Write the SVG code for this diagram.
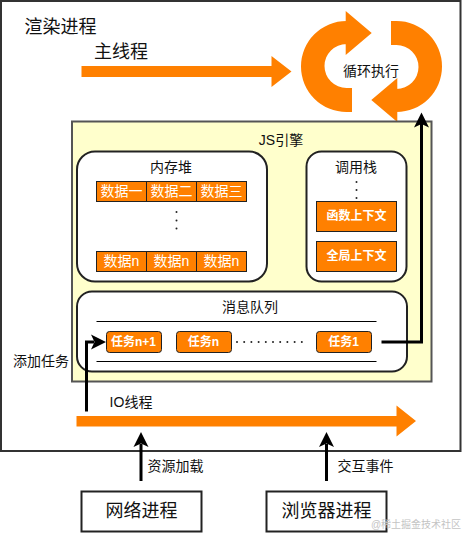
<svg xmlns="http://www.w3.org/2000/svg" width="462" height="533" viewBox="0 0 462 533">
<style>
text{font-family:"Liberation Sans","Noto Sans CJK SC",sans-serif;text-anchor:middle;dominant-baseline:central;fill:#111}
.t14{font-size:14px}
.cell{fill:#ff8000;stroke:#222;stroke-width:1}
.cellt{font-size:14px;fill:#fff}
.bt{font-size:12px;font-weight:bold;fill:#fff}
.panel{fill:#fff;stroke:#222;stroke-width:2}
.or{fill:#ff8000}
.blk{fill:none;stroke:#000;stroke-width:3}
.ah{fill:#000}
.dot{fill:#222}
</style>
<defs>
<path id="loop" d="M352 112H346.500A45.500 45.500 0 0 1 346.500 21H345.700V11L371.700 33L345.700 55V44H346.500A22 22 0 0 0 346.500 88H352Z"/>
</defs>
<g id="render-process">
<rect x="1" y="1" width="459.500" height="450" fill="#fff" stroke="#333" stroke-width="2"/>
<text x="60.500" y="26.500" font-size="18">渲染进程</text>
</g>
<g id="main-thread">
<path class="or" d="M81.500 66H271.500V56L291.500 71.500L271.500 87V77H81.500Z"/>
<text x="121" y="52" font-size="18">主线程</text>
</g>
<g id="loop-exec">
<use href="#loop" class="or"/>
<use href="#loop" class="or" transform="rotate(180 371.500 66.500)"/>
<text x="371" y="71" class="t14">循环执行</text>
</g>
<g id="js-engine">
<rect x="72" y="121.500" width="359.500" height="260" fill="#ffc" stroke="#555" stroke-width="2"/>
<text x="281" y="140" class="t14">JS引擎</text>
</g>
<g id="heap">
<rect class="panel" x="77" y="151.500" width="190" height="130" rx="18"/>
<text x="171" y="166.500" class="t14">内存堆</text>
<rect class="cell" x="96.500" y="181.500" width="50" height="20"/><rect class="cell" x="146.500" y="181.500" width="50" height="20"/><rect class="cell" x="196.500" y="181.500" width="50" height="20"/>
<text class="cellt" x="121.500" y="191">数据一</text><text class="cellt" x="171.500" y="191">数据二</text><text class="cellt" x="221.500" y="191">数据三</text>
<circle class="dot" cx="176.500" cy="212" r="1"/><circle class="dot" cx="176.500" cy="220.500" r="1"/><circle class="dot" cx="176.500" cy="228.500" r="1"/>
<rect class="cell" x="96.500" y="251.500" width="50" height="20"/><rect class="cell" x="146.500" y="251.500" width="50" height="20"/><rect class="cell" x="196.500" y="251.500" width="50" height="20"/>
<text class="cellt" x="121.500" y="261">数据n</text><text class="cellt" x="171.500" y="261">数据n</text><text class="cellt" x="221.500" y="261">数据n</text>
</g>
<g id="stack">
<rect class="panel" x="306.500" y="151.500" width="100" height="130" rx="15"/>
<text x="356" y="166.500" class="t14">调用栈</text>
<circle class="dot" cx="356.500" cy="182" r="1"/><circle class="dot" cx="356.500" cy="190" r="1"/><circle class="dot" cx="356.500" cy="198" r="1"/>
<rect class="cell" x="316.500" y="201.500" width="80" height="30"/>
<text class="bt" x="356.500" y="216">函数上下文</text>
<rect class="cell" x="316.500" y="241.500" width="80" height="30"/>
<text class="bt" x="356.500" y="256">全局上下文</text>
</g>
<g id="queue">
<rect class="panel" x="77" y="291.500" width="330" height="80" rx="15"/>
<text x="250" y="306.500" class="t14">消息队列</text>
<path d="M96.500 321.500H376.500M96.500 361.500H376.500" stroke="#000" stroke-width="1" fill="none"/>
<rect class="cell" x="106.500" y="331.500" width="55" height="21" rx="3"/>
<text class="bt" x="133.500" y="342">任务n+1</text>
<rect class="cell" x="176.500" y="331.500" width="55" height="21" rx="3"/>
<text class="bt" x="203.500" y="342">任务n</text>
<rect class="cell" x="316.500" y="331.500" width="55" height="21" rx="3"/>
<text class="bt" x="343.500" y="342">任务1</text>
<g class="dot"><circle cx="237" cy="342" r="1"/><circle cx="244.200" cy="342" r="1"/><circle cx="251.400" cy="342" r="1"/><circle cx="258.600" cy="342" r="1"/><circle cx="265.800" cy="342" r="1"/><circle cx="273" cy="342" r="1"/><circle cx="280.200" cy="342" r="1"/><circle cx="287.400" cy="342" r="1"/><circle cx="294.600" cy="342" r="1"/><circle cx="301.800" cy="342" r="1"/></g>
</g>
<g id="io-thread">
<path class="or" d="M76.500 416H396.500V405.500L416 421L396.500 436.500V426.500H76.500Z"/>
<text x="131" y="401.500" class="t14">IO线程</text>
</g>
<g id="connectors">
<path class="blk" d="M86.500 411.500V342H94"/>
<path class="ah" d="M106 342L91 349.500L94.500 342L91 334.500Z"/>
<path class="blk" d="M381.500 342H421.500V124"/>
<path class="ah" d="M421.500 112.500L429 127.500L421.500 124L414 127.500Z"/>
<path class="blk" d="M141 481V444"/>
<path class="ah" d="M141 432L148.500 447L141 443.500L133.500 447Z"/>
<path class="blk" d="M326.500 481V444"/>
<path class="ah" d="M326.500 432L334 447L326.500 443.500L319 447Z"/>
</g>
<g id="edge-labels">
<text x="41" y="361" class="t14">添加任务</text>
<text x="175.500" y="466" class="t14">资源加载</text>
<text x="365.500" y="466" class="t14">交互事件</text>
</g>
<g id="network-process">
<rect x="81.500" y="491.500" width="120" height="40" fill="#fff" stroke="#222" stroke-width="2"/>
<text x="141.500" y="511" font-size="18">网络进程</text>
</g>
<g id="browser-process">
<rect x="266.500" y="491.500" width="120" height="40" fill="#fff" stroke="#222" stroke-width="2"/>
<text x="326.500" y="511" font-size="18">浏览器进程</text>
</g>
<text x="416" y="524" font-size="10" style="fill:#c4c4c4">@稀土掘金技术社区</text>
</svg>
